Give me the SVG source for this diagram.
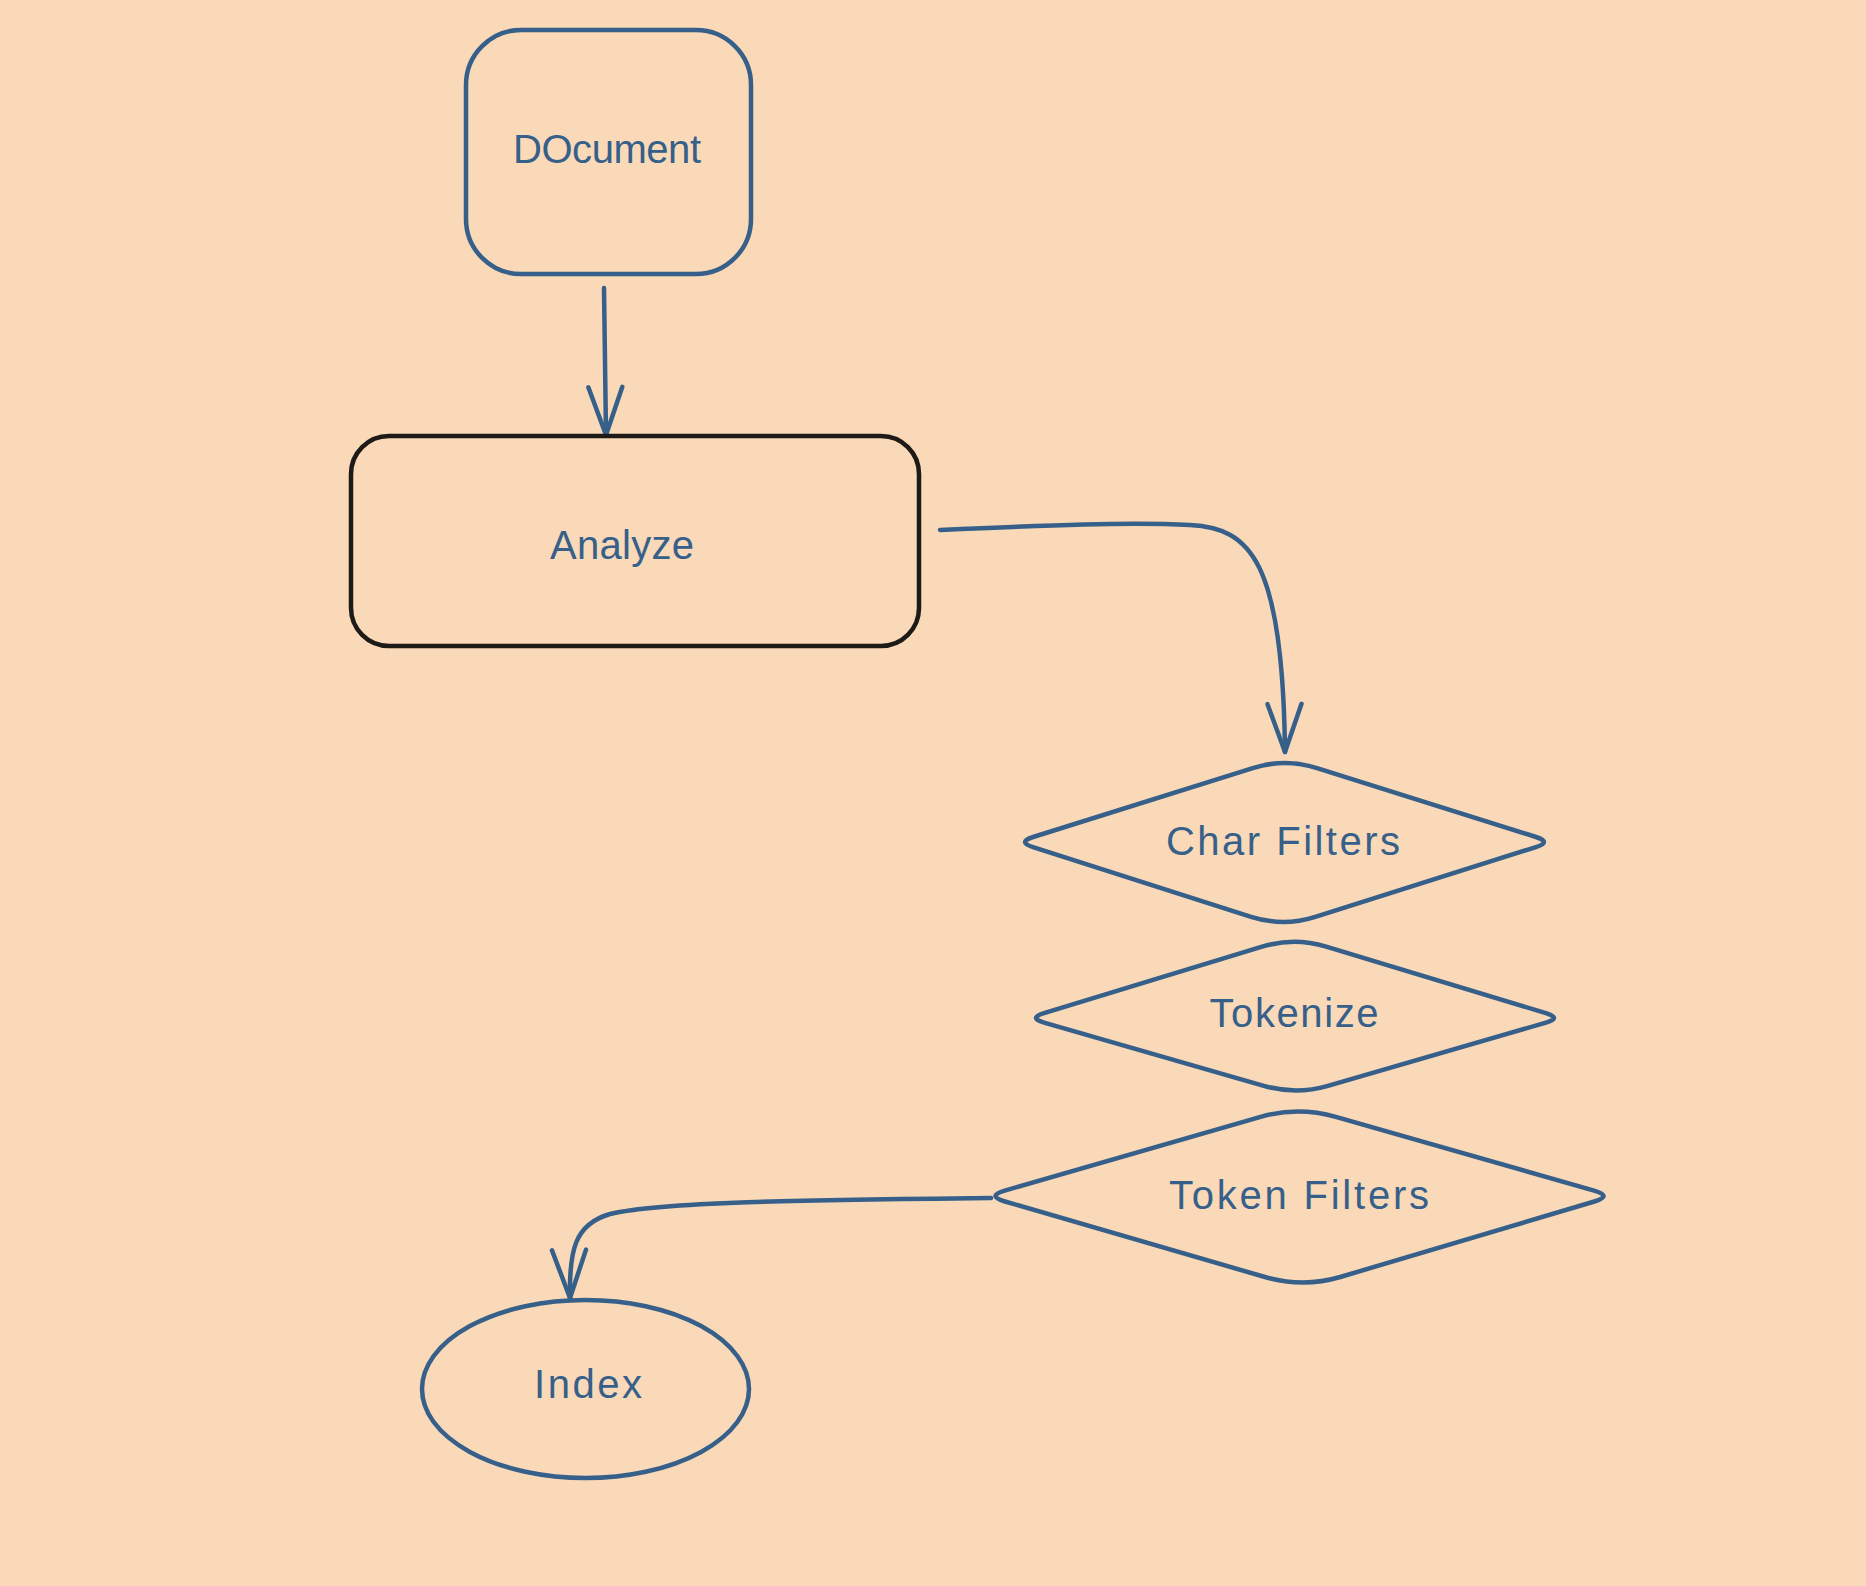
<svg xmlns="http://www.w3.org/2000/svg" width="1866" height="1586" viewBox="0 0 1866 1586">
<style>
.bg{fill:#f9d9b8}
.blue{fill:none;stroke:#365f8a;stroke-width:4.5;stroke-linecap:round;stroke-linejoin:round}
.dark{fill:none;stroke:#1e1a17;stroke-width:4.5;stroke-linecap:round;stroke-linejoin:round}
.lbl{font-family:"Liberation Sans","Open Sans",sans-serif;font-size:40px;fill:#365f8a;text-anchor:middle}
</style>
<defs>
<marker id="ah" markerUnits="userSpaceOnUse" markerWidth="70" markerHeight="50" viewBox="-60 -25 70 50" refX="0" refY="0" orient="auto" overflow="visible">
<path d="M-48,-17 L0,0 L-48,17" fill="none" stroke="#365f8a" stroke-width="4.5" stroke-linecap="round" stroke-linejoin="round"/>
</marker>
</defs>
<rect class="bg" x="0" y="0" width="1866" height="1586"/>
<g id="connectors">
<path class="blue" d="M604,288 L606,435" marker-end="url(#ah)"/>
<path class="blue" d="M940,530 C1050,525 1130,522 1190,525 C1250,528 1283,560 1285,752" marker-end="url(#ah)"/>
<path class="blue" d="M991,1198 C800,1200 660,1202 610,1214 C575,1224 569,1250 570,1298" marker-end="url(#ah)"/>
</g>
<g id="node-document">
<rect class="blue" x="466" y="30" width="285" height="244" rx="55" ry="55"/>
<text class="lbl" x="607" y="163" textLength="188">DOcument</text>
</g>
<g id="node-analyze">
<rect class="dark" x="351" y="436" width="568" height="210" rx="38" ry="38"/>
<text class="lbl" x="622" y="559" textLength="144">Analyze</text>
</g>
<g id="node-char-filters">
<path class="blue" d="M1033.1,837 L1252.8,768.1 Q1285,758 1317,768.1 L1536,837 Q1552,842 1535.9,847.1 L1315.3,916.8 Q1283,927 1251.1,916.8 L1033,847.1 Q1017,842 1033.1,837 Z"/>
<text class="lbl" x="1283" y="855" textLength="234">Char Filters</text>
</g>
<g id="node-tokenize">
<path class="blue" d="M1044,1013.1 L1262.1,946.7 Q1294,937 1326.2,946.7 L1545.9,1013.1 Q1562,1018 1546,1022.6 L1327.9,1085.8 Q1296,1095 1263.8,1085.8 L1044.1,1022.6 Q1028,1018 1044,1013.1 Z"/>
<text class="lbl" x="1294" y="1027" textLength="169">Tokenize</text>
</g>
<g id="node-token-filters">
<path class="blue" d="M1004.7,1190.6 L1260.6,1116.8 Q1298,1106 1335.8,1116.8 L1594.1,1190.6 Q1613,1196 1594.4,1201.5 L1340.2,1277 Q1303,1288 1265,1277 L1005,1201.5 Q986,1196 1004.7,1190.6 Z"/>
<text class="lbl" x="1299" y="1209" textLength="260">Token Filters</text>
</g>
<g id="node-index">
<ellipse class="blue" cx="585.5" cy="1389" rx="163.5" ry="89"/>
<text class="lbl" x="588" y="1398" textLength="108">Index</text>
</g>
</svg>
